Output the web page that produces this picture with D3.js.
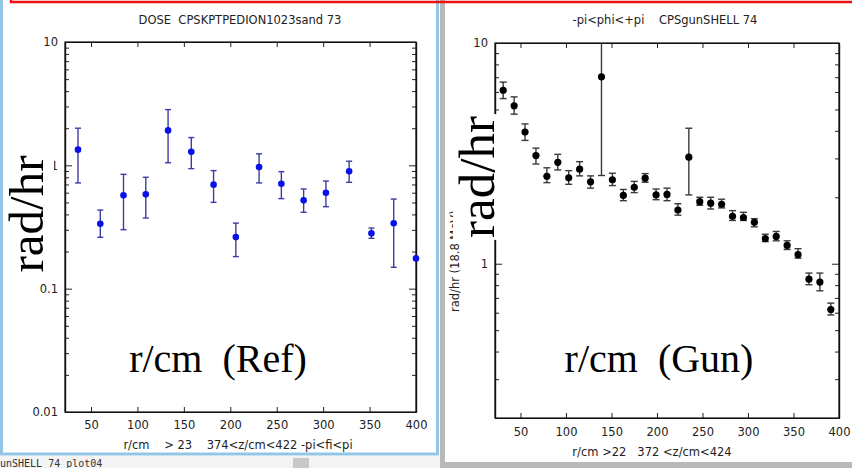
<!DOCTYPE html>
<html>
<head>
<meta charset="utf-8">
<script src="https://cdn.jsdelivr.net/npm/d3@7"></script>
<style>
  html, body { margin: 0; padding: 0; background: #ffffff; overflow: hidden; }
  svg { display: block; }
  text { white-space: pre; }
  .tick text { font-family: "DejaVu Sans", sans-serif; font-size: 11.5px; fill: #222; }
  .small { font-family: "DejaVu Sans", sans-serif; font-size: 11.5px; fill: #222; }
  .big { font-family: "Liberation Serif", serif; fill: #000; }
</style>
</head>
<body>
<script>
// ---- Dose measurements, reference geometry (r in cm, dose in rad/hr) ----
const refR    = [36, 60, 85, 109, 133, 158, 182, 206, 231, 255, 279, 303, 328, 352, 376, 400];
const refDose = [1.34, 0.336, 0.571, 0.582, 1.92, 1.29, 0.697, 0.262, 0.969, 0.71, 0.52, 0.60, 0.894, 0.281, 0.339, 0.176];
const refLow  = [0.72, 0.261, 0.301, 0.374, 1.05, 0.94, 0.501, 0.182, 0.72, 0.537, 0.416, 0.462, 0.728, 0.256, 0.149, null];
const refHigh = [2.0, 0.434, 0.845, 0.80, 2.83, 1.68, 0.906, 0.340, 1.24, 0.889, 0.643, 0.746, 1.08, 0.31, 0.533, null];

// ---- Dose measurements, gun shell geometry ----
const gunR    = [31, 43, 55, 67, 79, 91, 103, 115, 127, 139, 151, 163, 175, 187, 199, 211,
                 223, 235, 247, 259, 271, 283, 295, 307, 319, 331, 343, 355, 367, 379, 391];
const gunDose = [6.11, 5.19, 3.95, 3.09, 2.49, 2.88, 2.45, 2.68, 2.35, 7.03, 2.40, 2.04, 2.22, 2.44, 2.05, 2.06,
                 1.75, 3.04, 1.91, 1.88, 1.86, 1.64, 1.62, 1.54, 1.30, 1.33, 1.21, 1.10, 0.851, 0.826, 0.62];
const gunLow  = [5.6, 4.76, 3.62, 2.83, 2.33, 2.66, 2.29, 2.50, 2.20, 2.51, 2.26, 1.93, 2.10, 2.34, 1.95, 1.93,
                 1.66, 2.05, 1.84, 1.77, 1.79, 1.57, 1.57, 1.47, 1.26, 1.27, 1.16, 1.06, 0.803, 0.754, 0.586];
const gunHigh = [6.65, 5.70, 4.30, 3.34, 2.72, 3.13, 2.64, 2.90, 2.50, 10.5, 2.57, 2.17, 2.36, 2.56, 2.18, 2.20,
                 1.87, 4.11, 2.0, 2.0, 1.96, 1.74, 1.71, 1.60, 1.36, 1.40, 1.27, 1.17, 0.907, 0.907, 0.663];

// ---- Axis ticks and labels ----
const xTicks = [50, 100, 150, 200, 250, 300, 350, 400];
const refMajor = [0.01, 0.1, 1, 10];
const refMajorLabels = ["0.01", "0.1", "1", "10"];
const gunMajor = [1, 10];
const gunMajorLabels = ["1", "10"];
const mantissas = [2, 3, 4, 5, 6, 7, 8, 9];

const refTitle = "DOSE  CPSKPTPEDION1023sand 73";
const refXTitle = "r/cm    > 23    374<z/cm<422 -pi<fi<pi";
const gunTitle = "-pi<phi<+pi    CPSgunSHELL 74";
const gunXTitle = "r/cm >22   372 <z/cm<424";
const gunYTitle = "rad/hr (18.8 MeV)";

const W = 852, H = 468;
const svg = d3.select("body").append("svg").attr("width", W).attr("height", H);

// ---- window chrome ----
svg.append("rect").attr("x", 0).attr("y", 0).attr("width", W).attr("height", H).attr("fill", "#ffffff");
// strip below the left window
svg.append("rect").attr("x", 0).attr("y", 456).attr("width", 441).attr("height", 12).attr("fill", "#f4f4f4");
svg.append("rect").attr("x", 293).attr("y", 458).attr("width", 16).attr("height", 10).attr("fill", "#c8c8c8");
svg.append("text").attr("x", 0).attr("y", 467).attr("font-family", "DejaVu Sans Mono, monospace")
  .attr("font-size", 10).attr("fill", "#333").text("unSHELL_74_plot04");
// left window border (light blue)
svg.append("rect").attr("x", 1.5).attr("y", -10).attr("width", 436).attr("height", 464)
  .attr("fill", "none").attr("stroke", "#92c6e6").attr("stroke-width", 3);
// right window border (grey)
svg.append("rect").attr("x", 440).attr("y", 0).attr("width", 5).attr("height", 466).attr("fill", "#b9b9b9");
svg.append("rect").attr("x", 440).attr("y", 462).attr("width", W - 440).attr("height", 6).attr("fill", "#b9b9b9");
svg.append("rect").attr("x", 445).attr("y", 0).attr("width", W - 445).attr("height", 462).attr("fill", "#ffffff");
// red selection line across the top
svg.append("rect").attr("x", 11).attr("y", -20).attr("width", 841 + 5).attr("height", 22)
  .attr("fill", "none").attr("stroke", "#ee1111").attr("stroke-width", 2.5);

function minorValues(lo, hi) {
  const out = [];
  for (let e = Math.floor(Math.log10(lo)); e < Math.ceil(Math.log10(hi)); e++) {
    mantissas.forEach(m => {
      const v = m * Math.pow(10, e);
      if (v >= lo && v <= hi) out.push(v);
    });
  }
  return out;
}

function panel(opt) {
  const g = svg.append("g");
  const x = d3.scaleLinear().domain([22, 400]).range([opt.left, opt.right]);
  const y = d3.scaleLog().domain(opt.yDomain).range([opt.bottom, opt.top]);
  const minors = minorValues(opt.yDomain[0], opt.yDomain[1]).filter(v => !opt.major.includes(v));

  const clipId = "clip" + opt.id;
  svg.append("clipPath").attr("id", clipId).append("rect")
    .attr("x", opt.left).attr("y", opt.top)
    .attr("width", opt.right - opt.left).attr("height", opt.bottom - opt.top);

  // bottom axis, ticks pointing into the plot
  g.append("g").attr("transform", `translate(0,${opt.bottom})`)
    .call(d3.axisBottom(x).tickValues(xTicks).tickSizeInner(-5).tickSizeOuter(0)
      .tickPadding(opt.xPad).tickFormat(d3.format("d")));
  // top axis, ticks only
  g.append("g").attr("transform", `translate(0,${opt.top})`)
    .call(d3.axisTop(x).tickValues(xTicks).tickSizeInner(-5).tickSizeOuter(0).tickFormat(""));
  // left axis: major with labels, minor without
  g.append("g").attr("transform", `translate(${opt.left},0)`)
    .call(d3.axisLeft(y).tickValues(opt.major).tickSizeInner(-7).tickSizeOuter(0)
      .tickPadding(7).tickFormat((d, i) => opt.majorLabels[i]));
  g.append("g").attr("transform", `translate(${opt.left},0)`)
    .call(d3.axisLeft(y).tickValues(minors).tickSizeInner(-4).tickSizeOuter(0).tickFormat(""));
  // right axis, ticks pointing inward
  g.append("g").attr("transform", `translate(${opt.right},0)`)
    .call(d3.axisRight(y).tickValues(opt.major).tickSizeInner(-7).tickSizeOuter(0).tickFormat(""));
  g.append("g").attr("transform", `translate(${opt.right},0)`)
    .call(d3.axisRight(y).tickValues(minors).tickSizeInner(-4).tickSizeOuter(0).tickFormat(""));

  g.selectAll(".domain").attr("stroke", "#111").attr("stroke-width", 1.2);
  g.selectAll(".tick line").attr("stroke", "#222");
  // frame
  g.append("rect").attr("x", opt.left).attr("y", opt.top)
    .attr("width", opt.right - opt.left).attr("height", opt.bottom - opt.top)
    .attr("fill", "none").attr("stroke", "#111").attr("stroke-width", 1.2);

  // error bars
  const data = opt.r.map((r, i) => ({ r, v: opt.v[i], lo: opt.lo[i], hi: opt.hi[i] }));
  const eg = g.append("g").attr("clip-path", `url(#${clipId})`)
    .attr("stroke", opt.barColor).attr("stroke-width", 1.4);
  data.filter(d => d.lo != null).forEach(d => {
    const cx = x(d.r);
    eg.append("line").attr("x1", cx).attr("x2", cx).attr("y1", y(d.lo)).attr("y2", y(d.hi));
    eg.append("line").attr("x1", cx - opt.cap).attr("x2", cx + opt.cap).attr("y1", y(d.lo)).attr("y2", y(d.lo));
    eg.append("line").attr("x1", cx - opt.cap).attr("x2", cx + opt.cap).attr("y1", y(d.hi)).attr("y2", y(d.hi));
  });
  // markers
  g.append("g").selectAll("circle").data(data).join("circle")
    .attr("cx", d => x(d.r)).attr("cy", d => y(d.v)).attr("r", opt.radius)
    .attr("fill", opt.dotColor);

  // titles
  g.append("text").attr("class", "small").attr("x", opt.titleX).attr("y", 24)
    .attr("text-anchor", "middle").text(opt.title);
  g.append("text").attr("class", "small").attr("x", opt.xTitleX).attr("y", opt.xTitleY)
    .attr("text-anchor", "middle").text(opt.xTitle);
  return { x, y, g };
}

panel({
  id: "ref", left: 65, right: 416, top: 42, bottom: 412,
  yDomain: [0.01, 10], major: refMajor, majorLabels: refMajorLabels,
  r: refR, v: refDose, lo: refLow, hi: refHigh,
  barColor: "#3c3ca6", dotColor: "#0a10e8", radius: 3.3, cap: 3, xPad: 9,
  title: refTitle, titleX: 240, xTitle: refXTitle, xTitleX: 238, xTitleY: 449
});

panel({
  id: "gun", left: 495, right: 839, top: 43, bottom: 418,
  yDomain: [0.2, 10], major: gunMajor, majorLabels: gunMajorLabels,
  r: gunR, v: gunDose, lo: gunLow, hi: gunHigh,
  barColor: "#3a3a3a", dotColor: "#000000", radius: 3.6, cap: 3.5, xPad: 10,
  title: gunTitle, titleX: 665, xTitle: gunXTitle, xTitleX: 652, xTitleY: 456
});

// small y-axis title of the gun plot
svg.append("text").attr("class", "small").attr("font-size", 10)
  .attr("transform", "translate(459,312) rotate(-90)").text(gunYTitle);

// large axis annotations
function bigRotated(cx, cy, size, label) {
  const t = svg.append("text").attr("class", "big").attr("font-size", size)
    .attr("text-anchor", "middle")
    .attr("transform", `translate(${cx},${cy}) rotate(-90)`).text(label);
  const b = t.node().getBBox();
  svg.insert("rect", () => t.node())
    .attr("transform", `translate(${cx},${cy}) rotate(-90)`)
    .attr("x", b.x - 2).attr("y", b.y + 4).attr("width", b.width + 4).attr("height", b.height - 4)
    .attr("fill", "#ffffff");
}
bigRotated(43, 214, 49, "rad/hr");
bigRotated(494, 177, 51, "rad/hr");

svg.append("text").attr("class", "big").attr("font-size", 40).attr("text-anchor", "middle")
  .attr("x", 218).attr("y", 372).text("r/cm  (Ref)");
svg.append("text").attr("class", "big").attr("font-size", 40).attr("text-anchor", "middle")
  .attr("x", 659).attr("y", 372).text("r/cm  (Gun)");
</script>
</body>
</html>
